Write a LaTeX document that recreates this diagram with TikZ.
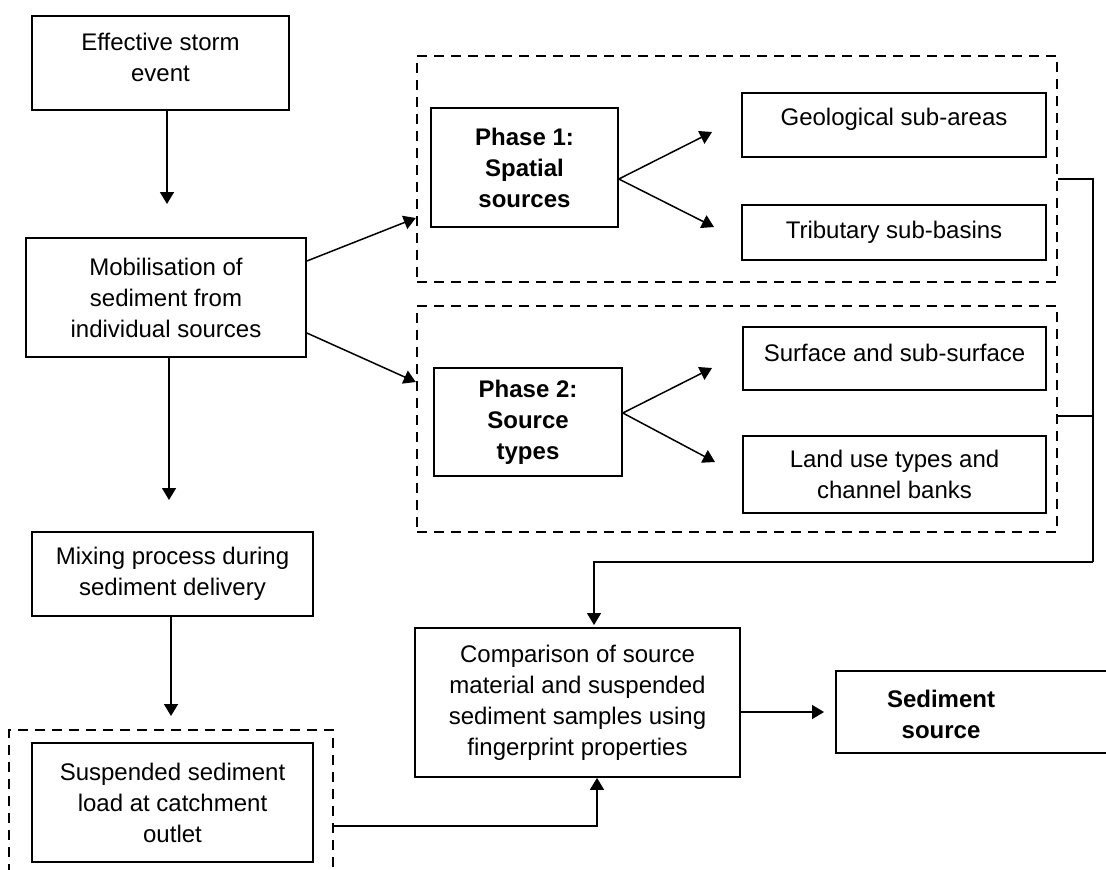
\documentclass[tikz,border=0pt]{standalone}
\usepackage{fontspec}
\setmainfont{Liberation Sans}
\usetikzlibrary{fit,arrows.meta}
\newcommand\boxfont{\fontsize{12}{15.5}\selectfont}
\tikzset{
  box/.style={draw, line width=0.85pt, inner sep=0pt},
  dbox/.style={draw, line width=1.2pt, dash pattern=on 5pt off 3.5pt, inner sep=0pt},
  txt/.style={align=center, font=\boxfont, inner sep=0pt},
  arr/.style={line width=0.75pt, -{Triangle[length=6pt,width=7pt]}},
  ln/.style={line width=0.75pt},
}
\begin{document}
\begin{tikzpicture}[x=0.5pt, y=-0.5pt]
\useasboundingbox (0,0) rectangle (1106,869);
\clip (0,0) rectangle (1106,869);

% left column
\node[box, fit={(32,16)(289,110)}, label={[txt, yshift=3pt]center:Effective storm\\event}] (storm) {};
\node[box, fit={(26,238)(306,357)}, label={[txt]center:Mobilisation of\\sediment from\\individual sources}] (mob) {};
\node[box, fit={(32,532)(313,616)}, label={[txt]center:Mixing process during\\sediment delivery}] (mix) {};
\node[dbox, fit={(9,730)(333,900)}] (outer) {};
\node[box, fit={(32,743)(313,862)}, label={[txt]center:Suspended sediment\\load at catchment\\outlet}] (load) {};

% phase 1 group
\node[dbox, fit={(417,56)(1057,282)}] (grp1) {};
\node[box, fit={(431,108)(618,227)}, label={[txt, font=\boxfont\bfseries]center:Phase 1:\\Spatial\\sources}] (ph1) {};
\node[box, fit={(742,93)(1046,157)}, label={[txt, yshift=3pt]center:Geological sub-areas}] (geo) {};
\node[box, fit={(742,205)(1046,260)}, label={[txt]center:Tributary sub-basins}] (trib) {};

% phase 2 group
\node[dbox, fit={(417,306)(1057,532)}] (grp2) {};
\node[box, fit={(434,368)(622,476)}, label={[txt, font=\boxfont\bfseries]center:Phase 2:\\Source\\types}] (ph2) {};
\node[box, fit={(743,327)(1046,390)}, label={[txt, yshift=3pt]center:Surface and sub-surface}] (surf) {};
\node[box, fit={(743,436)(1046,513)}, label={[txt]center:Land use types and\\channel banks}] (land) {};

% comparison and result
\node[box, fit={(415,628)(740,777)}, label={[txt]center:Comparison of source\\material and suspended\\sediment samples using\\fingerprint properties}] (comp) {};
\node[box, fit={(836,671)(1130,753)}] (res) {};
\node[txt, font=\boxfont\bfseries] (res-t) at (941,714) {Sediment\\source};

% free ends of the downward arrows
\coordinate (a1) at (167,204);
\coordinate (a2) at (169,500);
\coordinate (a3) at (171,716);
\draw[arr] (storm.south -| a1) -- (a1);
\draw[arr] (mob.south -| a2) -- (a2);
\draw[arr] (mix.south -| a3) -- (a3);

% branches into the two phases
\draw[arr] (mob.east |- 0,261) -- (grp1.west |- 0,218);
\draw[arr] (mob.east |- 0,333) -- (grp2.west |- 0,382);
\coordinate (g1) at (712,132);
\coordinate (t1) at (714,227);
\coordinate (g2) at (712,368);
\coordinate (t2) at (715,462);
\draw[arr] (ph1.east |- 0,179) -- (g1);
\draw[arr] (ph1.east |- 0,179) -- (t1);
\draw[arr] (ph2.east |- 0,413) -- (g2);
\draw[arr] (ph2.east |- 0,413) -- (t2);

% collector line on the right
\coordinate (c1) at (1093,179);
\coordinate (c2) at (1093,416);
\coordinate (c3) at (1093,562);
\coordinate (c4) at (594,562);
\coordinate (c5) at (594,625);
\draw[ln] (grp1.east |- c1) -- (c1) -- (c3);
\draw[ln] (grp2.east |- c2) -- (c2);
\draw[arr] (c3) -- (c4) -- (c5);

% outlet samples into the comparison
\coordinate (o1) at (597,826);
\draw[arr] (outer.east |- o1) -- (o1) -- (comp.south -| o1);

% comparison to result
\coordinate (r1) at (824,712);
\draw[arr] (comp.east |- r1) -- (r1);
\end{tikzpicture}
\end{document}
